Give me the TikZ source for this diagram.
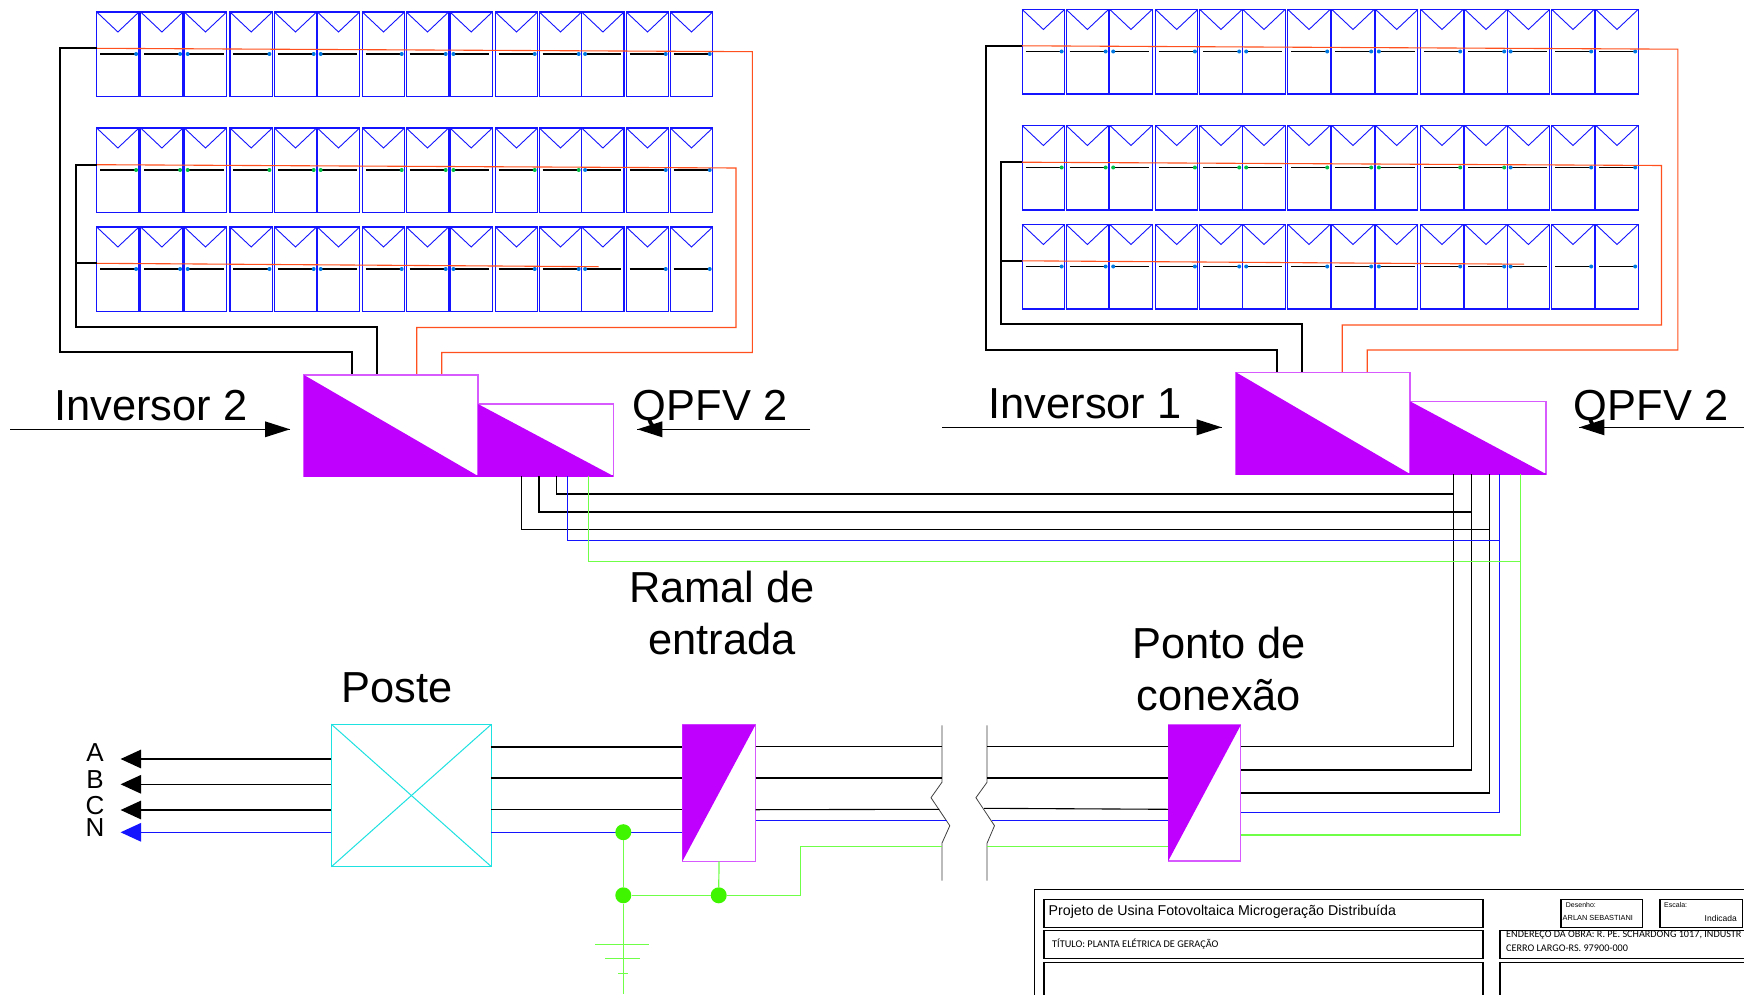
\documentclass[tikz,border=0pt]{standalone}
\usepackage{fontspec}
\setmainfont{Liberation Sans}
\newfontfamily\carl{Carlito}
\definecolor{panelblue}{RGB}{20,20,255}
\definecolor{cyanbox}{RGB}{30,225,225}
\definecolor{purp}{RGB}{191,0,255}
\definecolor{purpline}{RGB}{215,90,255}
\definecolor{orangeln}{RGB}{255,80,30}
\definecolor{greenln}{RGB}{110,255,70}
\definecolor{greendot}{RGB}{64,245,0}
\definecolor{dotblue}{RGB}{0,120,225}
\definecolor{dotgreen}{RGB}{0,190,70}
\definecolor{blueln}{RGB}{20,20,255}
\tikzset{
  panelbox/.style={draw=panelblue,line width=1.1pt},
  blackln/.style={draw=black,line width=1.8pt},
  thinblack/.style={draw=black,line width=1.1pt},
  busblack/.style={draw=black,line width=1.5pt},
  orln/.style={draw=orangeln,line width=1.1pt},
  bluew/.style={draw=blueln,line width=1pt},
  greenw/.style={draw=greenln,line width=1.2pt},
  breakln/.style={draw=black!75,line width=.8pt},
  conv/.style={draw=purpline,line width=1.1pt,inner sep=0pt,outer sep=0pt,anchor=north west},
  postebox/.style={draw=cyanbox,line width=1pt,inner sep=0pt,outer sep=0pt,anchor=north west},
  bigtxt/.style={font=\fontsize{43.4}{43.4}\selectfont,anchor=base,inner sep=0pt},
  abc/.style={font=\fontsize{26}{26}\selectfont,anchor=center,inner sep=0pt},
  tb/.style={draw=black,line width=1.2pt,inner sep=0pt,outer sep=0pt,anchor=north west},
  gnddot/.style={circle,fill=greendot,draw=none,minimum size=16pt,inner sep=0pt},
  lefttxt/.style={anchor=west,inner sep=0pt},
}
\newcommand{\pvrow}[2]{% top, dot colour for the first 11
  \foreach \n/\l/\d in {1/96.7/1,2/140.7/1,3/184.3/0,4/230/1,5/274.3/1,6/317.3/0,7/362.3/1,8/406.3/1,9/450/0,10/495.3/1,11/539.3/1,12/581.7/0,13/626.3/1,14/670.3/1}{
    \draw[panelbox] (\l,#1) rectangle ++(42.3,84.5);
    \draw[panelbox,line width=.9pt] (\l,#1) -- ++(21.2,20) -- ++(21.1,-20);
    \draw[thinblack] (\l+3.4,#1+42) -- ++(36,0);
    \ifnum\n<12 \def\dc{#2}\else\def\dc{dotblue}\fi
    \ifnum\d=1 \fill[\dc] (\l+39.4,#1+42) circle (2);
    \else \fill[\dc] (\l+3.4,#1+42) circle (2); \fi
  }
}
\newcommand{\pvarray}{%
  \pvrow{12}{dotblue}
  \pvrow{128}{dotgreen}
  \pvrow{227}{dotblue}
  \coordinate (r1a) at (96.7,48.3);
  \coordinate (r2a) at (96.7,164.7);
  \coordinate (r3a) at (96.7,263.3);
  \draw[orln] (r1a) -- (752.3,51.7) -- (752.3,352.5) -- (441.7,352.5) -- (441.7,375);
  \draw[orln] (r2a) -- (736,168) -- (736,327.5) -- (416.7,327.5) -- (416.7,375);
  \draw[orln] (r3a) -- (598.7,266.7);
  \draw[blackln] (r1a) -- (60.3,48.3) -- (60.3,352.3) -- (351.7,352.3) -- (351.7,375);
  \draw[blackln] (r2a) -- (75.8,164.7) -- (75.8,326.7) -- (376.7,326.7) -- (376.7,375);
  \draw[blackln] (r3a) -- (75.8,263.3);
}
\begin{document}
\begin{tikzpicture}[x=1pt,y=-1pt]
\useasboundingbox (0,0) rectangle (1744,995);
\fill[white] (0,0) rectangle (1744,995);

% arrays
\pvarray
\begin{scope}[shift={(925.5,-2.5)}]
\pvarray
\end{scope}

% converters
\node[conv,minimum width=174pt,minimum height=101pt] (inv2) at (304,375) {};
\node[conv,minimum width=135.3pt,minimum height=72pt] (qp2) at (478,404) {};
\node[conv,minimum width=174pt,minimum height=101.7pt] (inv1) at (1236,372.3) {};
\node[conv,minimum width=136pt,minimum height=72.7pt] (qp1) at (1410,401.3) {};
\foreach \b in {inv2,qp2,inv1,qp1}{
  \fill[purp] (\b.north west) -- (\b.south west) -- (\b.south east) -- cycle;
}
\draw[purp,line width=1.1pt] (inv2.south west) -- (qp2.south east);
\draw[purp,line width=1.1pt] (inv1.south west) -- (qp1.south east);

% labels and arrows
\node[bigtxt] (t1) at (151,420) {Inversor 2};
\node[bigtxt] (t2) at (710,420) {QPFV 2};
\node[bigtxt] (t3) at (1085,418) {Inversor 1};
\node[bigtxt] (t4) at (1651,420) {QPFV 2};
\coordinate (a1s) at (10,429.3); \coordinate (a1e) at (290,429.3);
\coordinate (a2s) at (810,429.3); \coordinate (a2e) at (637.3,429.3);
\coordinate (a3s) at (942,427.3); \coordinate (a3e) at (1221.7,427.3);
\coordinate (a4s) at (1744,427.3); \coordinate (a4e) at (1579.3,427.3);
\draw[thinblack] (a1s) -- (a1e);
\draw[thinblack] (a2s) -- (a2e);
\draw[thinblack] (a3s) -- (a3e);
\draw[thinblack] (a4s) -- (a4e);
\fill (a1e) -- ++(-25,-8) -- ++(0,16) -- cycle;
\fill (a2e) -- ++(25,-8) -- ++(0,16) -- cycle;
\fill (a3e) -- ++(-25,-8) -- ++(0,16) -- cycle;
\fill (a4e) -- ++(25,-8) -- ++(0,16) -- cycle;

% bus between the two QPFV and down to the connection point
\node[conv,minimum width=72.6pt,minimum height=136pt] (ponto) at (1168.2,725) {};
\fill[purp] (ponto.north west) -- (ponto.north east) -- (ponto.south west) -- cycle;
\draw[thinblack] (556.7,476) -- (556.7,494) -- (1453.3,494);
\draw[thinblack] (1453.3,474) -- (1453.3,746.7) -- (ponto.east |- 0,746.7);
\draw[busblack] (539,476) -- (539,512) -- (1471.3,512);
\draw[busblack] (1471.3,474) -- (1471.3,770) -- (ponto.east |- 0,770);
\draw[busblack] (521.3,476) -- (521.3,529.7) -- (1489.3,529.7);
\draw[busblack] (1489.3,474) -- (1489.3,793) -- (ponto.east |- 0,793);
\draw[bluew] (567.3,476) -- (567.3,540) -- (1499.3,540);
\draw[bluew] (1499.3,474) -- (1499.3,812.3) -- (ponto.east |- 0,812.3);
\draw[greenw] (588.3,476) -- (588.3,561.3) -- (1520.7,561.3);
\draw[greenw] (1520.7,474) -- (1520.7,835) -- (ponto.east |- 0,835);

% text
\node[bigtxt] (t5) at (722,602) {Ramal de};
\node[bigtxt] (t6) at (722,654) {entrada};
\node[bigtxt] (t7) at (397,702.5) {Poste};
\node[bigtxt] (t8) at (1219,658) {Ponto de};
\node[bigtxt] (t9) at (1219,710) {conexão};

% pole
\node[postebox,minimum width=160pt,minimum height=142.4pt] (poste) at (331.4,724.3) {};
\draw[cyanbox,line width=1pt] (poste.north west) -- (poste.south east);
\draw[cyanbox,line width=1pt] (poste.north east) -- (poste.south west);
\node[abc] (la) at (95,752.7) {A};
\node[abc] (lb) at (95,780) {B};
\node[abc] (lc) at (95,806) {C};
\node[abc] (ln) at (95,828) {N};
\foreach \y/\c/\s in {759/black/thinblack,784.3/black/thinblack,810/black/thinblack,832.3/blueln/bluew}{
  \draw[\s] (poste.west |- 0,\y) -- (130,\y);
  \fill[\c] (120.6,\y) -- ++(20.4,-9.4) -- ++(0,18.8) -- cycle;
}

% entry
\node[conv,minimum width=73.2pt,minimum height=136.6pt] (ramal) at (682.4,724.7) {};
\fill[purp] (ramal.north west) -- (ramal.north east) -- (ramal.south west) -- cycle;
\draw[thinblack] (poste.east |- 0,747) -- (ramal.west |- 0,747);
\draw[thinblack] (poste.east |- 0,778) -- (ramal.west |- 0,778);
\draw[thinblack] (poste.east |- 0,809.3) -- (ramal.west |- 0,809.3);
\draw[bluew] (poste.east |- 0,832.3) -- (ramal.west |- 0,832.3);
% cut lines
\coordinate (b1a) at (941.9,725.3);
\coordinate (b2a) at (987,725.3);
\draw[breakln] (b1a) -- (941.9,782.3) -- (931,797.7) -- (949.8,825.7) -- (941.9,843.3) -- (941.9,880.7);
\draw[breakln] (b2a) -- (987,782.3) -- (975.9,797.7) -- (994.5,825.7) -- (987,843.3) -- (987,880.7);
\draw[thinblack] (ramal.east |- 0,746.7) -- (941.9,746.7);
\draw[thinblack] (ramal.east |- 0,778) -- (941.9,778);
\draw[thinblack] (ramal.east |- 0,809.7) -- (939.4,809.3);
\draw[bluew] (ramal.east |- 0,820.3) -- (947,820.3);
\draw[thinblack] (987,746.7) -- (ponto.west |- 0,746.7);
\draw[thinblack] (987,778) -- (ponto.west |- 0,778);
\draw[thinblack] (984,808.3) -- (ponto.west |- 0,809.3);
\draw[bluew] (992,820.3) -- (ponto.west |- 0,820.3);
\draw[greenw] (987,846.7) -- (ponto.west |- 0,846.7);

% earthing
\node[gnddot] (d1) at (623.3,832.2) {};
\node[gnddot] (d2) at (623.3,895.3) {};
\node[gnddot] (d3) at (718.7,895.3) {};
\coordinate (gnd) at (623.3,994);
\draw[greenw] (d1) -- (d2);
\draw[greenw] (d2) -- (gnd);
\draw[greenw] (d2) -- (d3);
\draw[greenw] (ramal.south |- 0,861.3) -- (d3);
\draw[greenw] (d3) -- (800.2,895.3) -- (800.2,846.7) -- (941.9,846.7);
\draw[greenw] (595,944.7) -- (649,944.7);
\draw[greenw] (605,958.7) -- (640,958.7);
\draw[greenw] (618,973.3) -- (628,973.3);

% title block
\draw[tb] (1034.8,1000) -- (1034.8,889.3) -- (1750,889.3);
\node[tb,minimum width=439pt,minimum height=28pt] (b1) at (1044,899.3) {};
\node[tb,minimum width=439pt,minimum height=28pt] (b2) at (1044,930.7) {};
\draw[tb] (1044,1000) -- (1044,962.3) -- (1483,962.3) -- (1483,1000);
\node[tb,minimum width=250pt,minimum height=28pt] (b4) at (1500,930.7) {};
\draw[tb] (1500,1000) -- (1500,962.3) -- (1750,962.3);
\node[tb,minimum width=81.3pt,minimum height=28pt] (b5) at (1561,899.3) {};
\node[tb,minimum width=82.5pt,minimum height=28pt] (b6) at (1660,899.3) {};
\node[lefttxt,font=\fontsize{14.2}{14.2}\selectfont] (p1) at (1048.5,911.5) {Projeto de Usina Fotovoltaica Microgeração Distribuída};
\node[lefttxt,font=\carl\fontsize{10.3}{10.3}\selectfont] (p2) at (1052,944) {TÍTULO: PLANTA ELÉTRICA DE GERAÇÃO};
\node[lefttxt,font=\carl\fontsize{10.2}{10.2}\selectfont] (p3) at (1506,935.5) {ENDEREÇO DA OBRA: R. PE. SCHARDONG 1017, INDUSTR};
\node[lefttxt,font=\carl\fontsize{10.2}{10.2}\selectfont] (p4) at (1506,948) {CERRO LARGO-RS. 97900-000};
\node[lefttxt,font=\fontsize{7}{7}\selectfont] (p5) at (1565.7,905) {Desenho:};
\node[lefttxt,font=\fontsize{7.4}{7.4}\selectfont] (p6) at (1562.5,918) {ARLAN SEBASTIANI};
\node[lefttxt,font=\fontsize{7}{7}\selectfont] (p7) at (1664,905) {Escala:};
\node[anchor=east,inner sep=0pt,font=\fontsize{8.5}{8.5}\selectfont] (p8) at (1737,918) {Indicada};
\end{tikzpicture}
\end{document}
